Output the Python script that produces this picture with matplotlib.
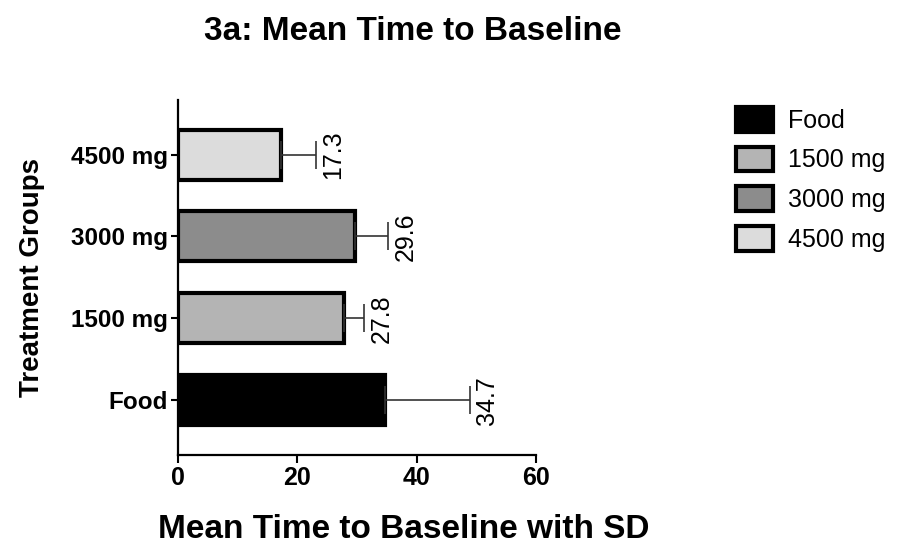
import matplotlib
matplotlib.use("Agg")
import matplotlib.pyplot as plt
from matplotlib.patches import Patch

plt.rcParams['font.family'] = ['Liberation Sans', 'DejaVu Sans']

groups = ["Food", "1500 mg", "3000 mg", "4500 mg"]
means = [34.7, 27.8, 29.6, 17.3]
sds = [14.2, 3.4, 5.6, 5.8]
fills = ["#000000", "#b4b4b4", "#8c8c8c", "#dcdcdc"]

fig = plt.figure(figsize=(9.03, 5.45), dpi=100)
ax = fig.add_axes([0.197, 0.165, 0.397, 0.652])

ypos = list(range(len(groups)))
for y, m, s, c in zip(ypos, means, sds, fills):
    ax.barh(y, m, height=0.61, color=c, edgecolor="black", linewidth=3)
    ax.errorbar(m, y, xerr=[[0], [s]], fmt="none", ecolor="#333333",
                elinewidth=1.2, capsize=10, capthick=1.2)
    ax.text(m + s + 0.9, y, f"{m}", rotation=90, ha="left", va="center",
            fontsize=18)

ax.set_xlim(0, 60)
ax.set_ylim(-0.67, 3.67)
ax.set_xticks([0, 20, 40, 60])
ax.set_yticks(ypos)
ax.set_yticklabels(groups, fontweight="bold", fontsize=17.5)
for lab in ax.get_xticklabels():
    lab.set_fontweight("bold")
    lab.set_fontsize(18)
ax.spines["top"].set_visible(False)
ax.spines["right"].set_visible(False)
ax.spines["left"].set_linewidth(1.6)
ax.spines["bottom"].set_linewidth(1.6)
ax.tick_params(axis="y", width=1.5, length=5, pad=2)
ax.tick_params(axis="x", width=1.5, length=6, pad=2)

ax.set_xlabel("Mean Time to Baseline with SD", fontweight="bold", fontsize=24)
ax.xaxis.set_label_coords(0.63, -0.165)
ax.set_ylabel("Treatment Groups", fontweight="bold", fontsize=20)
ax.yaxis.set_label_coords(-0.37, 0.5)
fig.suptitle("3a: Mean Time to Baseline", fontweight="bold", fontsize=24,
             x=0.457, y=0.97)

handles = [Patch(facecolor=c, edgecolor="black", linewidth=3, label=g)
           for g, c in zip(groups, fills)]
fig.legend(handles=handles, loc="upper left", bbox_to_anchor=(0.79, 0.845),
           frameon=False, fontsize=18, labelspacing=0.55, handlelength=1.5,
           handleheight=1.15, handletextpad=0.6)

fig.savefig("out.png", dpi=100)
